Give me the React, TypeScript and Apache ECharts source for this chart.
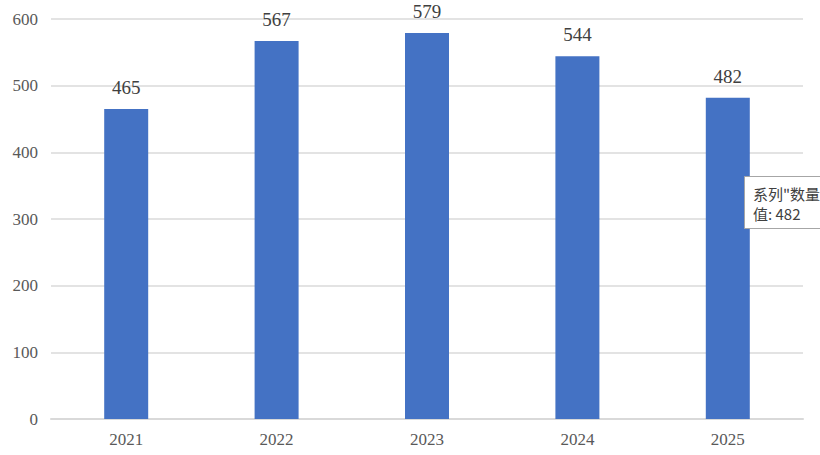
import React, { useEffect, useRef } from 'react';
import * as echarts from 'echarts';

const years = ['2021', '2022', '2023', '2024', '2025'];
const counts = [465, 567, 579, 544, 482];
const tipLines = ['系列"数量"', '值: 482'];

const serif = '"Liberation Serif", "Times New Roman", serif';

const App: React.FC = () => {
  const chartRef = useRef<HTMLDivElement>(null);

  useEffect(() => {
    document.body.style.margin = '0';
    const chart = echarts.init(chartRef.current!, undefined, { renderer: 'svg' });

    const options = {
      animation: false,
      backgroundColor: '#ffffff',
      textStyle: { fontFamily: serif },
      grid: { left: 51, right: 17, top: 19, bottom: 36 },
      xAxis: {
        type: 'category',
        data: years,
        axisTick: { show: false },
        axisLine: { lineStyle: { color: '#d9d9d9', width: 2 } },
        axisLabel: {
          color: '#595959',
          fontFamily: serif,
          fontSize: 17,
          margin: 12,
        },
      },
      yAxis: {
        type: 'value',
        min: 0,
        max: 600,
        interval: 100,
        axisLine: { show: false },
        axisTick: { show: false },
        splitLine: { lineStyle: { color: '#e3e3e3', width: 2 } },
        axisLabel: {
          color: '#595959',
          fontFamily: serif,
          fontSize: 17,
          margin: 13,
        },
      },
      series: [
        {
          name: '数量',
          type: 'bar',
          data: counts,
          barWidth: 44,
          itemStyle: { color: '#4472c4' },
          label: {
            show: true,
            position: 'top',
            distance: 12,
            color: '#404040',
            fontFamily: serif,
            fontSize: 19,
          },
        },
      ],
      graphic: [
        {
          type: 'rect',
          shape: { x: 744.5, y: 176.5, width: 100, height: 52 },
          style: { fill: '#ffffff', stroke: '#a6a6a6', lineWidth: 1 },
          z: 100,
        },
        {
          type: 'text',
          x: 753,
          y: 183,
          style: {
            text: tipLines.join('\n'),
            fill: '#404040',
            font: '15px "Noto Sans CJK SC", sans-serif',
            lineHeight: 20,
          },
          z: 101,
        },
      ],
    };

    chart.setOption(options);

    return () => {
      chart.dispose();
    };
  }, []);

  return <div ref={chartRef} style={{ width: '820px', height: '455px' }} />;
};

export default App;
